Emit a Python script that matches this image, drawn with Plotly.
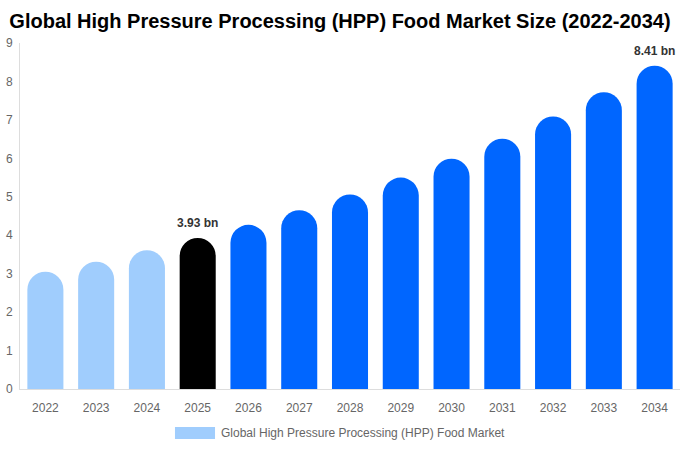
import plotly.graph_objects as go

years = ["2022", "2023", "2024", "2025", "2026", "2027", "2028",
         "2029", "2030", "2031", "2032", "2033", "2034"]
market_size = [3.05, 3.31, 3.61, 3.93, 4.27, 4.65, 5.06,
               5.50, 5.99, 6.51, 7.09, 7.72, 8.41]
bar_colors = ["#a0cdfd"] * 3 + ["#000000"] + ["#0066ff"] * 9
labelled = {"2025": "3.93 bn", "2034": "8.41 bn"}
series_name = "Global High Pressure Processing (HPP) Food Market"

fig = go.Figure()
fig.add_trace(go.Bar(
    x=years, y=market_size,
    marker=dict(color=bar_colors, cornerradius="50%", line=dict(width=0)),
    name=series_name, showlegend=False,
    hoverinfo="x+y",
))

# numeric-looking category names get read as serial numbers, so use the index
for yr, txt in labelled.items():
    i = years.index(yr)
    fig.add_annotation(
        x=i, y=market_size[i], text="<b>" + txt + "</b>",
        showarrow=False, yanchor="bottom", yshift=6,
        font=dict(size=12, color="#333333"),
    )

# legend swatch + label drawn by hand to match the wide swatch
fig.add_shape(type="rect", xref="paper", yref="paper",
              x0=0.2348, x1=0.2955, y0=-0.1445, y1=-0.1098,
              fillcolor="#a0cdfd", line_width=0)
fig.add_annotation(xref="paper", yref="paper", x=0.301, y=-0.127,
                   xanchor="left", yanchor="middle", showarrow=False,
                   text=series_name, font=dict(size=12, color="#666666"))

fig.update_layout(
    width=680, height=450,
    margin=dict(l=20, r=0, t=43, b=61),
    paper_bgcolor="white", plot_bgcolor="white",
    font=dict(family="Liberation Sans, Arial, sans-serif", color="#666666", size=12),
    title=dict(text="<b>Global High Pressure Processing (HPP) Food Market Size (2022-2034)</b>",
               x=0.5, xanchor="center", y=0.953, yanchor="middle",
               font=dict(size=20, color="#000000")),
    bargap=0.29,
)
fig.update_xaxes(type="category", showline=True, linecolor="#dddddd", linewidth=1,
                 showgrid=False, ticks="", ticklabelstandoff=8,
                 tickfont=dict(size=12, color="#666666"))
fig.update_yaxes(range=[0, 9], dtick=1, showline=True, linecolor="#dddddd",
                 linewidth=1, showgrid=False, zeroline=False, ticks="",
                 ticklabelstandoff=4, tickfont=dict(size=12, color="#666666"))

fig.write_html("out.html", config={"displayModeBar": False},
               post_script="document.body.style.margin='0';")
